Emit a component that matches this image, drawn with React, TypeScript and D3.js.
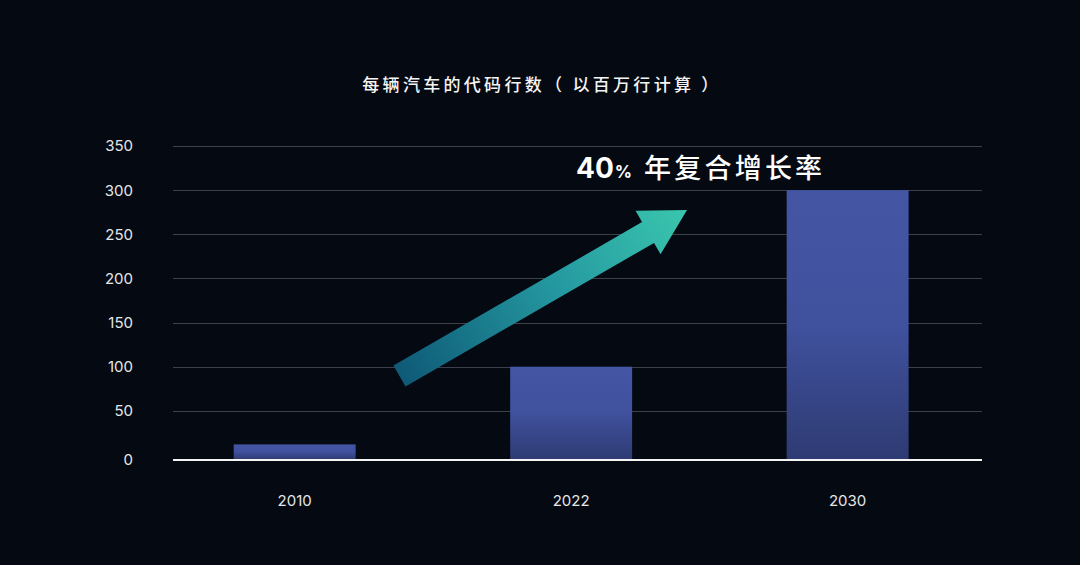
import React, { useEffect, useRef } from "react";
import * as d3 from "d3";

const categories = ["2010", "2022", "2030"];
const values = [12, 100, 300];
const yTicks = [0, 50, 100, 150, 200, 250, 300, 350];
const title = "每辆汽车的代码行数（ 以百万行计算 ）";
const annotationNumber = "40";
const annotationPct = "%";
const annotationText = "年复合增长率";

const W = 1080;
const H = 565;

export default function App() {
  const ref = useRef<SVGSVGElement | null>(null);

  useEffect(() => {
    const svg = d3.select(ref.current);
    svg.selectAll("*").remove();

    const font = "'Noto Sans CJK SC', 'Noto Sans', sans-serif";
    const numFont = "Inter, 'Noto Sans', sans-serif";
    const gridLeft = 173;
    const gridRight = 982;

    const y = d3.scaleLinear().domain([0, 350]).range([455, 146]);
    const x = d3
      .scaleBand<string>()
      .domain(categories)
      .range([173, 969.3])
      .paddingInner(0.559)
      .paddingOuter(0.2195);

    svg.append("rect").attr("width", W).attr("height", H).attr("fill", "#040912");

    const defs = svg.append("defs");
    const barGrad = defs
      .append("linearGradient")
      .attr("id", "barGrad")
      .attr("x1", 0)
      .attr("y1", 0)
      .attr("x2", 0)
      .attr("y2", 1);
    barGrad.append("stop").attr("offset", "0%").attr("stop-color", "#4455a4");
    barGrad.append("stop").attr("offset", "50%").attr("stop-color", "#40519e");
    barGrad.append("stop").attr("offset", "100%").attr("stop-color", "#2e3b73");

    const arrowGrad = defs
      .append("linearGradient")
      .attr("id", "arrowGrad")
      .attr("gradientUnits", "userSpaceOnUse")
      .attr("x1", 0)
      .attr("y1", 0)
      .attr("x2", 332)
      .attr("y2", 0);
    arrowGrad.append("stop").attr("offset", "0%").attr("stop-color", "#0e5a77");
    arrowGrad.append("stop").attr("offset", "55%").attr("stop-color", "#2599a0");
    arrowGrad.append("stop").attr("offset", "100%").attr("stop-color", "#3ac6ae");

    // title
    svg
      .append("text")
      .attr("x", 542)
      .attr("y", 91)
      .attr("text-anchor", "middle")
      .attr("fill", "#f4f4f4")
      .attr("font-family", font)
      .attr("font-size", 17)
      .attr("font-weight", 500)
      .attr("letter-spacing", 3.3)
      .text(title);

    // gridlines
    svg
      .append("g")
      .selectAll("line")
      .data(yTicks.filter((d) => d > 0))
      .join("line")
      .attr("x1", gridLeft)
      .attr("x2", gridRight)
      .attr("y1", (d) => Math.round(y(d)) + 0.5)
      .attr("y2", (d) => Math.round(y(d)) + 0.5)
      .attr("stroke", "#3b404b")
      .attr("stroke-width", 1);

    // y tick labels
    svg
      .append("g")
      .selectAll("text")
      .data(yTicks)
      .join("text")
      .attr("x", 133)
      .attr("y", (d) => (d === 0 ? 460 : y(d)))
      .attr("dy", "0.36em")
      .attr("text-anchor", "end")
      .attr("fill", "#e6e6e6")
      .attr("font-family", numFont)
      .attr("font-size", 15)
      .text((d) => String(d));

    // bars
    const baseY = 459;
    svg
      .append("g")
      .selectAll("rect")
      .data(categories)
      .join("rect")
      .attr("x", (d) => x(d) as number)
      .attr("width", x.bandwidth())
      .attr("y", (d, i) => y(values[i]))
      .attr("height", (d, i) => baseY - y(values[i]))
      .attr("fill", "url(#barGrad)");

    // axis line
    svg
      .append("line")
      .attr("x1", gridLeft)
      .attr("x2", gridRight)
      .attr("y1", 460)
      .attr("y2", 460)
      .attr("stroke", "#f4f4f4")
      .attr("stroke-width", 2.2);

    // x labels
    svg
      .append("g")
      .selectAll("text")
      .data(categories)
      .join("text")
      .attr("x", (d) => (x(d) as number) + x.bandwidth() / 2)
      .attr("y", 501)
      .attr("dy", "0.36em")
      .attr("text-anchor", "middle")
      .attr("fill", "#e6e6e6")
      .attr("font-family", numFont)
      .attr("font-size", 15)
      .text((d) => d);

    // arrow
    const arrow = svg
      .append("g")
      .attr("transform", "translate(399.5,376) rotate(-30)");
    arrow
      .append("polygon")
      .attr(
        "points",
        [
          [0, -12],
          [287, -12],
          [287, -25],
          [332, 0],
          [287, 25],
          [287, 12],
          [0, 12],
        ]
          .map((p) => p.join(","))
          .join(" ")
      )
      .attr("fill", "url(#arrowGrad)");

    // annotation
    const ann = svg
      .append("text")
      .attr("x", 576)
      .attr("y", 178)
      .attr("fill", "#ffffff")
      .attr("font-family", font);
    ann
      .append("tspan")
      .attr("font-family", numFont)
      .attr("font-size", 28)
      .attr("font-weight", 700)
      .text(annotationNumber);
    ann
      .append("tspan")
      .attr("font-family", numFont)
      .attr("font-size", 17)
      .attr("font-weight", 700)
      .attr("dx", 1)
      .text(annotationPct);
    ann
      .append("tspan")
      .attr("font-size", 27)
      .attr("font-weight", 500)
      .attr("dx", 12)
      .attr("letter-spacing", 3.2)
      .text(annotationText);
  }, []);

  return (
    <svg
      ref={ref}
      width={W}
      height={H}
      style={{ display: "block", position: "absolute", left: 0, top: 0 }}
    />
  );
}
